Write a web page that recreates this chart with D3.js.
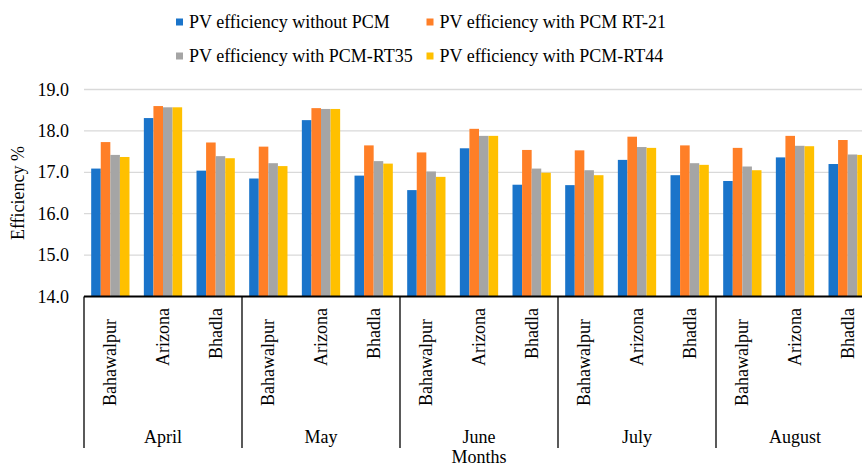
<!DOCTYPE html>
<html>
<head>
<meta charset="utf-8">
<script src="https://cdn.jsdelivr.net/npm/d3@7"></script>
<style>
  body { margin: 0; background: #fff; }
  svg { display: block; }
  svg text { font-family: "Liberation Serif", "Times New Roman", "DejaVu Serif", serif; }
</style>
</head>
<body>
<svg width="862" height="468" font-family="Liberation Serif, Times New Roman, serif"></svg>
<script>
// Data
var months = ["April", "May", "June", "July", "August"];
var locations = ["Bahawalpur", "Arizona", "Bhadla"];
var seriesNames = [
  "PV efficiency without PCM",
  "PV efficiency with PCM RT-21",
  "PV efficiency with PCM-RT35",
  "PV efficiency with PCM-RT44"
];
var colors = ["#1a74ca", "#ff7f27", "#a5a5a5", "#ffc000"];
var yTicks = [14, 15, 16, 17, 18, 19];

// values ordered month by month: Bahawalpur, Arizona, Bhadla
var withoutPCM = [17.09, 18.31, 17.04, 16.85, 18.26, 16.92, 16.57, 17.58, 16.70, 16.69, 17.30, 16.93, 16.79, 17.36, 17.20];
var pcmRT21    = [17.73, 18.60, 17.72, 17.62, 18.55, 17.65, 17.48, 18.05, 17.54, 17.53, 17.86, 17.65, 17.59, 17.88, 17.78];
var pcmRT35    = [17.42, 18.57, 17.39, 17.22, 18.53, 17.27, 17.02, 17.88, 17.09, 17.05, 17.61, 17.22, 17.14, 17.64, 17.43];
var pcmRT44    = [17.37, 18.57, 17.34, 17.15, 18.53, 17.21, 16.89, 17.88, 16.99, 16.93, 17.59, 17.18, 17.05, 17.63, 17.42];
var seriesValues = [withoutPCM, pcmRT21, pcmRT35, pcmRT44];

var svg = d3.select("svg"),
    margin = {left: 84, top: 89.5, axisY: 296.5, right: 874};

// rows of the table: one per month/location pair
var rows = [];
months.forEach(function(m, mi) {
  locations.forEach(function(l, li) {
    rows.push({month: m, loc: l, idx: mi * locations.length + li});
  });
});

// Scales
var xMonth = d3.scaleBand().domain(months).range([margin.left, margin.right]).padding(0);
var xLoc = d3.scaleBand().domain(locations).range([0, xMonth.bandwidth()]).padding(0);
var xSeries = d3.scaleBand().domain(d3.range(seriesNames.length))
    .range([0, xLoc.bandwidth()]).paddingInner(0).paddingOuter(0.75);
var y = d3.scaleLinear().domain([14, 19]).range([margin.axisY, margin.top]);

// Gridlines
svg.append("g")
  .selectAll("line")
  .data(yTicks.slice(1))
  .enter().append("line")
    .attr("x1", margin.left)
    .attr("x2", 862)
    .attr("y1", function(d) { return y(d); })
    .attr("y2", function(d) { return y(d); })
    .attr("stroke", "#d9d9d9")
    .attr("stroke-width", 1.3);

// Y axis tick labels
svg.append("g")
  .selectAll("text")
  .data(yTicks)
  .enter().append("text")
    .attr("x", 69)
    .attr("y", function(d) { return y(d) + 6; })
    .attr("text-anchor", "end")
    .style("font-size", "18px")
    .text(function(d) { return d3.format(".1f")(d); });

svg.append("text")
  .attr("transform", "translate(24," + ((margin.top + margin.axisY) / 2) + ") rotate(-90)")
  .attr("text-anchor", "middle")
  .style("font-size", "18px")
  .text("Efficiency %");

// Bars
var groups = svg.append("g")
  .selectAll("g")
  .data(rows)
  .enter().append("g")
    .attr("transform", function(d) { return "translate(" + (xMonth(d.month) + xLoc(d.loc)) + ",0)"; });

groups.selectAll("rect")
  .data(function(d) { return seriesValues.map(function(s, si) { return {si: si, v: s[d.idx]}; }); })
  .enter().append("rect")
    .attr("x", function(d) { return xSeries(d.si); })
    .attr("y", function(d) { return y(d.v); })
    .attr("width", xSeries.bandwidth())
    .attr("height", function(d) { return y(14) - y(d.v); })
    .attr("fill", function(d) { return colors[d.si]; });

// X axis line
svg.append("line")
  .attr("x1", margin.left).attr("x2", 862)
  .attr("y1", margin.axisY).attr("y2", margin.axisY)
  .attr("stroke", "#000").attr("stroke-width", 2);

// Month separators
svg.append("g")
  .selectAll("line")
  .data(months)
  .enter().append("line")
    .attr("x1", function(d) { return xMonth(d); })
    .attr("x2", function(d) { return xMonth(d); })
    .attr("y1", margin.axisY)
    .attr("y2", 448)
    .attr("stroke", "#000")
    .attr("stroke-width", 1.3);

// Location labels (rotated)
svg.append("g")
  .selectAll("text")
  .data(rows)
  .enter().append("text")
    .attr("transform", function(d) {
      var cx = xMonth(d.month) + xLoc(d.loc) + xLoc.bandwidth() / 2 + 6;
      var top = d.loc === "Bahawalpur" ? 319 : 308;
      return "translate(" + cx + "," + top + ") rotate(-90)";
    })
    .attr("text-anchor", "end")
    .style("font-size", "18px")
    .text(function(d) { return d.loc; });

// Month labels
svg.append("g")
  .selectAll("text")
  .data(months)
  .enter().append("text")
    .attr("x", function(d) { return xMonth(d) + xMonth.bandwidth() / 2; })
    .attr("y", 443)
    .attr("text-anchor", "middle")
    .style("font-size", "18px")
    .text(function(d) { return d; });

svg.append("text")
  .attr("x", (margin.left + margin.right) / 2)
  .attr("y", 463)
  .attr("text-anchor", "middle")
  .style("font-size", "18px")
  .text("Months");

// Legend
var legendPos = [[176, 22], [426.5, 22], [176, 56], [426.5, 56]];
var legend = svg.append("g")
  .selectAll("g")
  .data(seriesNames)
  .enter().append("g")
    .attr("transform", function(d, i) { return "translate(" + legendPos[i][0] + "," + legendPos[i][1] + ")"; });

legend.append("rect")
  .attr("x", 0).attr("y", -3.5)
  .attr("width", 7).attr("height", 7)
  .attr("fill", function(d, i) { return colors[i]; });

legend.append("text")
  .attr("x", 13)
  .attr("y", 6)
  .style("font-size", "18px")
  .text(function(d) { return d; });
</script>
</body>
</html>
